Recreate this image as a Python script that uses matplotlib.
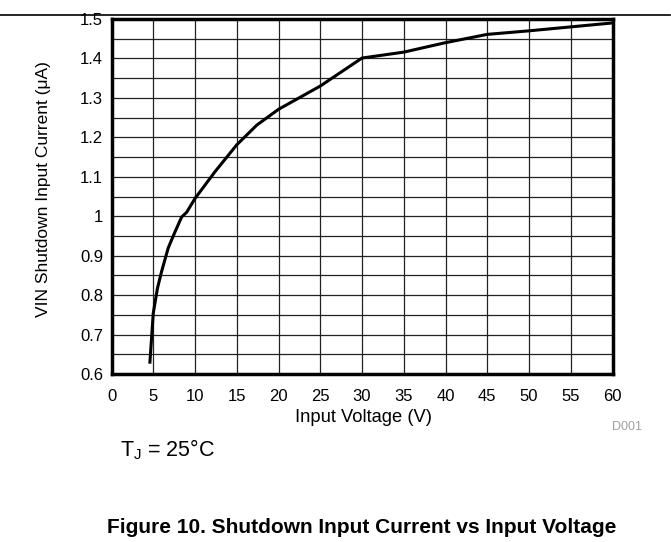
"""Shutdown input current vs input voltage"""

import matplotlib
matplotlib.use('Agg')
import matplotlib.pyplot as plt
import numpy as np
from matplotlib.lines import Line2D

plt.rcParams['font.family'] = ['Liberation Sans', 'DejaVu Sans']
plt.rcParams['mathtext.fontset'] = 'custom'
plt.rcParams['mathtext.rm'] = 'Liberation Sans'

voltage = [4.6, 5.0, 5.5, 6.0, 6.8, 7.6, 8.4, 9.0, 10.0, 12.4, 15.0, 17.4, 20.0, 25.0, 30.0,
           35.0, 40.0, 45.0, 50.0, 55.0, 60.0]
current = [0.63, 0.754, 0.817, 0.86, 0.92, 0.96, 0.998, 1.01, 1.045, 1.113, 1.181, 1.231, 1.271,
           1.330, 1.401, 1.416, 1.440, 1.461, 1.470, 1.480, 1.490]

x_ticks = list(range(0, 61, 5))
y_ticks = [0.6, 0.7, 0.8, 0.9, 1.0, 1.1, 1.2, 1.3, 1.4, 1.5]
y_tick_labels = ['0.6', '0.7', '0.8', '0.9', '1', '1.1', '1.2', '1.3', '1.4', '1.5']

W, H = 671, 542
fig = plt.figure(figsize=(W / 100, H / 100), dpi=100)
ax = fig.add_axes([111.5 / W, 1 - 374 / H, (612.5 - 111.5) / W, (374 - 19) / H])

ax.set_xlim(0, 60)
ax.set_ylim(0.6, 1.5)
ax.set_xticks(x_ticks)
ax.set_xticklabels([str(t) for t in x_ticks], fontsize=12)
ax.set_yticks(y_ticks)
ax.set_yticklabels(y_tick_labels, fontsize=12)
ax.set_yticks(np.arange(0.65, 1.5, 0.1), minor=True)
ax.tick_params(which='both', length=0)
ax.tick_params(axis='x', pad=11)
ax.tick_params(axis='y', pad=6)
ax.grid(True, which='both', color='#222222', lw=0.9)
ax.set_axisbelow(True)
for s in ax.spines.values():
    s.set_linewidth(2.5)
    s.set_color('black')

ax.plot(voltage, current, color='black', lw=2.2, solid_joinstyle='round')

ax.set_ylabel('VIN Shutdown Input Current (\u03bcA)', fontsize=12.5)
ax.yaxis.set_label_coords(-0.12, 0.52)

fig.text(363 / W, 1 - 422 / H, 'Input Voltage (V)', fontsize=13.2, ha='center', va='baseline')
fig.text(642 / W, 1 - 426.5 / H, 'D001', fontsize=9, color='#a0a0a0', ha='right', va='center')
fig.text(120 / W, 1 - 456.5 / H, r'T$_\mathregular{J}$ = 25°C', fontsize=15.5, ha='left', va='baseline')
fig.text(362 / W, 1 - 533 / H, 'Figure 10. Shutdown Input Current vs Input Voltage',
         fontsize=15, fontweight='bold', ha='center', va='baseline')

fig.add_artist(Line2D([0, 670 / W], [1 - 15 / H, 1 - 15 / H], color='black', lw=1.2))

fig.savefig('out.png', dpi=100)
